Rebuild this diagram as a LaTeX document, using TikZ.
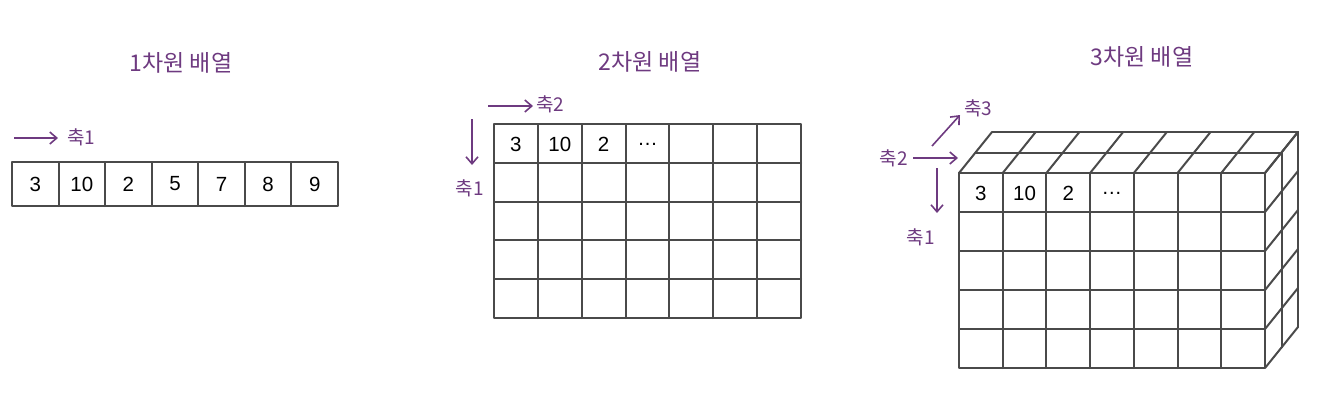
\documentclass[tikz,border=0pt]{standalone}
\usepackage{fontspec}
\setmainfont{Liberation Sans}
\newfontfamily\kr{Noto Sans CJK KR}
\usetikzlibrary{arrows.meta}
\definecolor{axpurple}{HTML}{6E3A80}
\definecolor{gridgray}{HTML}{4A4A4A}
\tikzset{
  gridline/.style={draw=gridgray, line width=2pt, line cap=round, line join=round},
  title/.style={text=axpurple, font=\kr\fontsize{23}{25}\selectfont, inner sep=0pt},
  axlabel/.style={text=axpurple, font=\kr\fontsize{19}{21}\selectfont, inner sep=0pt},
  axarrow/.style={draw=axpurple, line width=1.6pt, -{Straight Barb[length=7pt,width=12pt,line width=1.6pt]}},
  num/.style={font=\fontsize{20.5}{22}\selectfont, text=black, inner sep=0pt}
}
\begin{document}
\begin{tikzpicture}[x=1pt,y=-1pt]
\useasboundingbox (0,0) rectangle (1344,420);
% ---------- titles
\node[title] (t1) at (181,63) {1차원 배열};
\node[title] (t2) at (650,62) {2차원 배열};
\node[title] (t3) at (1142,57) {3차원 배열};

% ---------- 1D array
\draw[gridline] (12,162) rectangle (338,206);
\foreach \i in {1,...,6} {
  \draw[gridline] ({12+\i*46.57},162) -- ({12+\i*46.57},206);
}
\foreach \v [count=\i from 0] in {3,10,2,5,7,8,9} {
  \node[num] (a\i) at ({12+(\i+0.5)*46.57},184) {\v};
}
\coordinate (a1s) at (14,138);
\coordinate (a1e) at (58,138);
\draw[axarrow] (a1s) -- (a1e);
\node[axlabel, anchor=west] (l1) at (67,137) {축1};

% ---------- 2D array
\draw[gridline] (494,124) rectangle (801,318);
\foreach \i in {1,...,6} {
  \draw[gridline] ({494+\i*43.86},124) -- ({494+\i*43.86},318);
}
\foreach \j in {1,...,4} {
  \draw[gridline] (494,{124+\j*38.8}) -- (801,{124+\j*38.8});
}
\foreach \v [count=\i from 0] in {3,10,2,\dots} {
  \node[num] (b\i) at ({494+(\i+0.5)*43.86},144) {\v};
}
\coordinate (b2s) at (488,106);
\coordinate (b2e) at (533,106);
\draw[axarrow] (b2s) -- (b2e);
\node[axlabel, anchor=west] (l22) at (536,104) {축2};
\coordinate (b1s) at (472,119);
\coordinate (b1e) at (472,165);
\draw[axarrow] (b1s) -- (b1e);
\node[axlabel] (l21) at (470,188) {축1};

% ---------- 3D array
% top face
\foreach \i in {0,...,7} {
  \draw[gridline] ({959+\i*43.71},173) -- ({959+\i*43.71+33},132);
}
\foreach \j in {0,1,2} {
  \draw[gridline] ({959+\j*16.5},{173-\j*20.5}) -- ({1265+\j*16.5},{173-\j*20.5});
}
% right face
\foreach \k in {0,...,5} {
  \draw[gridline] (1265,{173+\k*39}) -- (1298,{132+\k*39});
}
\foreach \j in {1,2} {
  \draw[gridline] ({1265+\j*16.5},{173-\j*20.5}) -- ({1265+\j*16.5},{368-\j*20.5});
}
% front face
\draw[gridline] (959,173) rectangle (1265,368);
\foreach \i in {1,...,6} {
  \draw[gridline] ({959+\i*43.71},173) -- ({959+\i*43.71},368);
}
\foreach \j in {1,...,4} {
  \draw[gridline] (959,{173+\j*39}) -- (1265,{173+\j*39});
}
\foreach \v [count=\i from 0] in {3,10,2,\dots} {
  \node[num] (c\i) at ({959+(\i+0.5)*43.71},193) {\v};
}
\node[axlabel, anchor=east] (l32) at (908,158) {축2};
\coordinate (c2s) at (913,158);
\coordinate (c2e) at (958,158);
\draw[axarrow] (c2s) -- (c2e);
\coordinate (c3s) at (932,146);
\coordinate (c3e) at (960,115);
\draw[axarrow] (c3s) -- (c3e);
\node[axlabel, anchor=west] (l33) at (964,108) {축3};
\coordinate (c1s) at (937,168);
\coordinate (c1e) at (937,213);
\draw[axarrow] (c1s) -- (c1e);
\node[axlabel] (l31) at (921,237) {축1};
\end{tikzpicture}
\end{document}
